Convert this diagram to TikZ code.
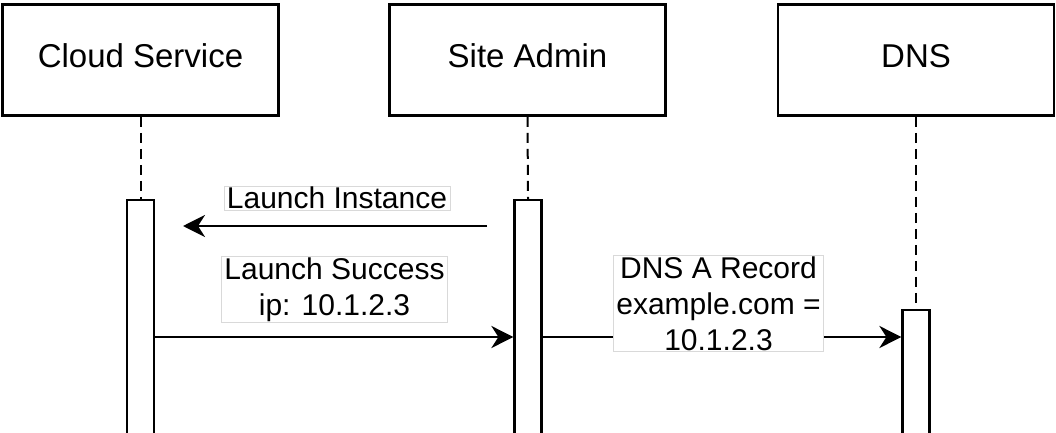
\documentclass[tikz,border=0pt]{standalone}
\usepackage{fontspec}
\setmainfont{Liberation Sans}
\usetikzlibrary{arrows.meta}
\begin{document}
\begin{tikzpicture}[x=1pt,y=-1pt,
  actor/.style={draw, line width=2.6pt, minimum width=276pt, minimum height=111pt, inner sep=0pt, text height=23.6pt, text depth=8pt, font=\fontsize{33}{38}\selectfont},
  bar/.style={draw, fill=white, line width=2.2pt, minimum width=27pt, minimum height=300pt, anchor=north, inner sep=0pt},
  life/.style={line width=2pt, dash pattern=on 10pt off 6pt},
  msg/.style={line width=2.6pt, -{Stealth[length=22pt,width=22pt,inset=7pt]}},
  lbl/.style={fill=white, draw=black!15, line width=0.6pt, align=center, font=\fontsize{30}{36}\selectfont, inner xsep=3pt, inner ysep=1pt}]
\useasboundingbox (0,0) rectangle (1056,433);
\clip (0,0) rectangle (1056,433);
% participants
\node[actor] (cs)  at (140.5,60) {Cloud Service};
\node[actor] (sa)  at (527.5,60) {Site Admin};
\node[actor] (dns) at (916,60)   {DNS};
% activation bars
\node[bar] (b1) at (140.5,199) {};
\node[bar] (b2) at (528,199) {};
\node[bar] (b3) at (916,309) {};
% lifelines
\draw[life] (cs.south) -- (b1.north);
\draw[life] (sa.south) -- (b2.north);
\draw[life] (dns.south) -- (b3.north);
% messages
\coordinate (li-s) at (487,226);
\coordinate (li-e) at (183,226);
\coordinate (m2) at (0,337);
\draw[msg] (li-s) -- (li-e);
\draw[msg] (b1.east |- m2) -- (b2.west |- m2);
\draw[msg] (b2.east |- m2) -- (b3.west |- m2);
% labels
\node[lbl] (l1) at (337,198) {Launch Instance};
\node[lbl] (l2) at (334.5,289.5) {Launch Success\\ip: 10.1.2.3};
\node[lbl] (l3) at (718.5,303.5) {DNS A Record\\example.com =\\10.1.2.3};
\end{tikzpicture}
\end{document}
